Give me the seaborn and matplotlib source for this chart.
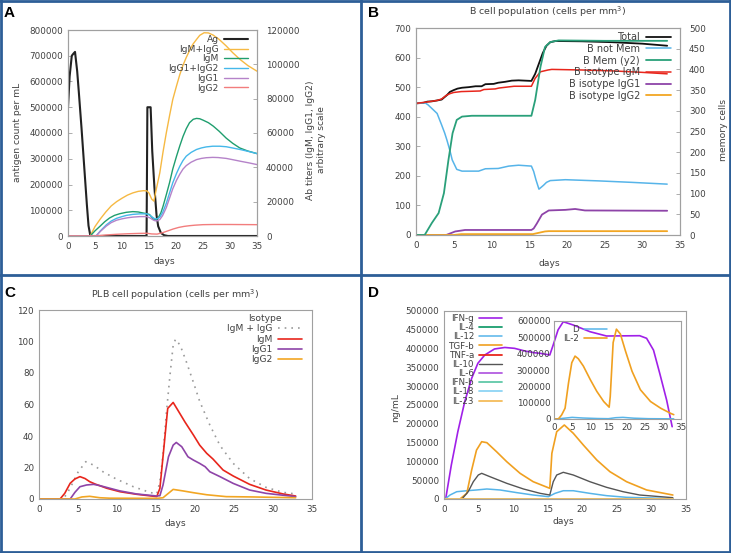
import matplotlib
matplotlib.use("Agg")
import matplotlib.pyplot as plt
import matplotlib.ticker as mticker
from matplotlib.lines import Line2D
import seaborn as sns

sns.set_theme(style="white")
plt.rcParams["font.family"] = ["DejaVu Sans"]

# ---------------- Panel A data ----------------
a_ag_days = [0, 0.3, 0.7, 1.0, 1.3, 1.7, 2.0, 2.5, 3.0, 3.5, 3.8, 4.1, 4.5, 14.55, 14.7, 15.3, 15.6, 16.0, 16.4, 16.7, 17.2, 17.8, 18.5, 35]
a_ag_vals = [500000, 620000, 700000, 708000, 715000, 640000, 560000, 420000, 270000, 120000, 40000, 5000, 0, 0, 500000, 500000, 330000, 190000, 80000, 38000, 12000, 3000, 0, 0]

a_sum_days = [0, 4.1, 5.0, 6.0, 7.0, 8.0, 9.0, 10.0, 11.0, 12.0, 13.0, 14.0, 14.6, 15.0, 15.5, 15.9, 16.4, 17.0, 17.6, 18.2, 18.8, 19.4, 20.1, 20.7, 21.3, 21.9, 22.5, 23.1, 23.8, 24.4, 25.2, 26.0, 26.9, 28.0, 29.3, 30.5, 31.8, 33.3, 35.0]
a_sum_vals = [0, 0, 5500, 10000, 14000, 17500, 20000, 22000, 23800, 25100, 26000, 26400, 26300, 25000, 21500, 20300, 28000, 36800, 49000, 60000, 70000, 79500, 87500, 94000, 99500, 104000, 108000, 111600, 114500, 116900, 118400, 118300, 117000, 114500, 110700, 106800, 103000, 99300, 96000]

a_igm_days = [0, 4.1, 5.0, 5.9, 6.8, 7.7, 8.6, 9.6, 10.8, 12.0, 13.0, 13.9, 14.6, 15.1, 15.5, 15.9, 16.3, 16.7, 17.2, 17.6, 18.2, 18.8, 19.4, 20.1, 20.7, 21.3, 21.9, 22.5, 23.2, 23.8, 24.4, 25.0, 26.0, 26.9, 28.0, 29.3, 30.5, 31.8, 33.3, 35.0]
a_igm_vals = [0, 0, 3000, 5600, 8300, 10500, 12000, 13000, 13800, 14200, 14000, 13400, 13000, 12500, 11000, 9500, 9500, 10500, 13500, 17300, 24000, 31000, 39000, 46500, 52500, 58000, 62500, 66000, 68000, 68500, 68300, 67500, 66000, 64000, 61000, 57000, 54000, 51300, 49500, 48000]

a_igg_days = [0, 5.2, 6.0, 7.1, 8.0, 9.0, 10.0, 10.8, 12.0, 13.3, 14.6, 15.2, 15.7, 16.1, 16.5, 17.0, 17.5, 18.2, 18.8, 19.4, 20.1, 20.7, 21.3, 21.9, 22.8, 23.8, 24.7, 25.6, 26.8, 28.1, 29.3, 30.6, 32.0, 33.5, 35]
a_igg_vals = [0, 0, 3000, 6500, 8700, 10300, 11300, 12000, 12600, 12900, 12900, 12000, 10800, 10000, 10000, 11000, 13500, 19000, 25000, 31000, 36500, 40600, 44000, 46500, 48700, 50400, 51300, 51900, 52300, 52300, 52000, 51200, 50300, 49200, 48000]

a_igg1_days = [0, 5.2, 6.0, 7.1, 8.0, 9.0, 10.0, 11.0, 12.0, 13.3, 14.6, 15.2, 15.7, 16.1, 16.5, 17.0, 17.5, 18.2, 18.8, 19.4, 20.1, 20.7, 21.3, 21.9, 22.8, 23.8, 24.7, 25.6, 26.8, 27.8, 29.3, 30.6, 32.0, 33.5, 35]
a_igg1_vals = [0, 0, 2700, 5800, 7800, 9200, 10000, 10600, 11000, 11300, 11300, 10500, 9500, 8900, 8800, 9600, 11800, 16500, 22000, 27500, 32500, 36000, 39000, 41000, 43000, 44500, 45200, 45600, 45800, 45700, 45200, 44400, 43500, 42600, 41600]

a_igg2_days = [0, 5.0, 6.0, 7.0, 9.0, 11.0, 13.0, 14.6, 15.5, 16.5, 17.5, 18.5, 19.5, 20.5, 21.5, 22.5, 23.5, 25.0, 27.0, 30.0, 35]
a_igg2_vals = [0, 0, 300, 600, 1000, 1300, 1500, 1600, 1200, 1100, 1900, 3000, 4100, 5000, 5600, 6000, 6300, 6600, 6700, 6700, 6600]

# ---------------- Panel B data ----------------
b_total_days = [0, 1.0, 1.5, 2.1, 2.8, 3.4, 4.1, 4.5, 5.0, 5.5, 6.1, 7.0, 7.9, 8.7, 9.2, 10.3, 10.9, 11.8, 12.7, 13.6, 15.3, 15.8, 16.3, 16.8, 17.3, 17.8, 18.5, 22, 26, 30, 33.3]
b_total_vals = [445, 447, 451, 452, 455, 458, 473, 484, 490, 495, 498, 500, 503, 503, 510, 511, 515, 518, 522, 523, 521, 545, 580, 615, 640, 652, 656, 655, 652, 647, 640]

b_notmem_days = [0, 1.2, 1.6, 2.1, 2.8, 3.4, 3.8, 4.1, 4.5, 4.8, 5.4, 6.1, 8.3, 9.2, 10.9, 12.3, 13.6, 15.3, 15.6, 15.9, 16.3, 16.9, 17.3, 17.8, 19.8, 24.2, 28.6, 33.3]
b_notmem_vals = [445, 447, 440, 428, 411, 372, 345, 321, 285, 254, 222, 216, 216, 224, 225, 233, 236, 233, 215, 187, 155, 168, 178, 184, 187, 183, 178, 172]

b_mem_days = [0, 1.15, 2.1, 3.0, 3.7, 4.3, 4.85, 5.4, 6.1, 7.4, 15.3, 15.8, 16.5, 17.1, 17.8, 18.9, 25, 33.3]
b_mem_vals = [0, 0, 29, 53, 101, 181, 246, 278, 286, 288, 288, 326, 406, 454, 466, 470, 469, 469]

b_igm_days = [0, 1.5, 2.8, 3.4, 4.0, 4.5, 5.0, 6.0, 8.5, 9.0, 10.5, 11.0, 12.0, 13.0, 15.3, 15.8, 16.5, 17.5, 18.0, 22, 26, 30, 33.3]
b_igm_vals = [445, 450, 455, 460, 472, 478, 482, 485, 487, 492, 494, 497, 500, 503, 503, 530, 552, 558, 560, 558, 555, 550, 545]

b_igg1_days = [0, 4.0, 4.6, 5.2, 6.0, 6.5, 15.3, 15.6, 16.0, 16.7, 17.6, 19.8, 21.1, 22.4, 33.3]
b_igg1_vals = [0, 0, 6, 12, 15, 17, 17, 22, 38, 69, 83, 85, 88, 83, 82]

b_igg2_days = [0, 5.0, 6.0, 15.5, 16.2, 17.1, 17.6, 33.3]
b_igg2_vals = [0, 0, 3, 3, 7, 12, 13, 13]

# ---------------- Panel C data ----------------
c_sum_days = [0, 2.9, 3.5, 4.2, 5.0, 6.0, 7.0, 8.2, 9.9, 12.1, 14.2, 15.1, 15.5, 15.9, 16.3, 16.8, 17.2, 17.5, 18.1, 18.9, 19.8, 20.6, 21.9, 23.2, 24.9, 27.0, 29.1, 31.3, 32.9]
c_sum_vals = [0, 0, 2.5, 9, 17, 23.7, 21.5, 17.3, 12.7, 7.8, 4.2, 3.2, 11, 28, 53, 79, 97.6, 101.4, 97.6, 87, 74, 62, 47, 34, 22.6, 13, 7.4, 4.2, 3.2]

c_igm_days = [0, 2.7, 3.3, 4.0, 4.6, 5.25, 5.9, 6.5, 7.2, 8.7, 10.4, 12.5, 15.1, 15.5, 16.0, 16.5, 17.2, 17.8, 18.7, 19.8, 20.6, 21.5, 22.3, 23.6, 24.9, 27.0, 29.1, 31.3, 32.9]
c_igm_vals = [0, 0, 3.6, 10, 12.7, 14.2, 13, 11, 9.5, 6.8, 4.6, 3, 1.5, 6.8, 32, 57.5, 61.3, 56.4, 49, 40.6, 34.2, 29, 25.4, 18.4, 14.6, 9.3, 5.7, 3.2, 1.9]

c_igg1_days = [0, 4.0, 4.6, 5.25, 6.1, 7.0, 7.8, 9.1, 10.4, 12.5, 15.1, 15.5, 15.9, 16.6, 17.2, 17.6, 18.3, 19.1, 19.8, 20.6, 21.3, 21.9, 23.2, 24.9, 27.0, 29.1, 32.9]
c_igg1_vals = [0, 0, 4.2, 7.8, 8.9, 9.3, 8.5, 6.8, 5.1, 3.2, 1.9, 2.1, 8.9, 26.8, 34.2, 35.9, 33.2, 26.8, 24.7, 22.6, 20.5, 17.3, 14.2, 9.9, 5.7, 3.6, 1.5]

c_igg2_days = [0, 4.6, 5.5, 6.5, 7.8, 9.1, 15.1, 15.9, 17.2, 18.5, 19.8, 21.5, 24.0, 27.4, 32.9]
c_igg2_vals = [0, 0, 1.3, 1.7, 0.8, 0.5, 0.4, 0.8, 6.1, 5.1, 4.0, 2.7, 1.5, 1.3, 0.8]

# ---------------- Panel D data ----------------
d_ifng_days = [0, 0.24, 1.06, 2.0, 3.0, 4.0, 4.9, 5.9, 7.3, 8.8, 10.2, 11.7, 13.1, 13.9, 15.3, 15.8, 16.5, 17.25, 18.7, 21.1, 23.5, 28.3, 29.3, 30.3, 31.2, 32.2, 33.0]
d_ifng_vals = [0, 0, 90400, 179000, 259000, 321000, 361000, 383000, 399000, 403000, 400700, 393600, 389000, 387500, 383000, 410000, 450000, 471500, 462700, 445000, 433500, 434300, 427400, 396000, 334300, 263000, 192300]

d_tgfb_days = [0, 2.3, 3.3, 4.0, 4.7, 5.45, 6.2, 7.6, 9.07, 11.0, 12.9, 15.3, 15.6, 16.3, 17.4, 18.7, 20.15, 22.1, 24.0, 26.4, 29.3, 33.1]
d_tgfb_vals = [0, 0, 15000, 77000, 130000, 152400, 149800, 125800, 99300, 68300, 46000, 28400, 121500, 179000, 196800, 174700, 143600, 103700, 72600, 46000, 24000, 10600]

d_il10_days = [0, 2.6, 3.5, 4.24, 4.96, 5.45, 6.65, 9.07, 11.5, 13.9, 15.3, 15.8, 16.3, 17.25, 18.7, 21.1, 23.5, 25.9, 28.3, 33.1]
d_il10_vals = [0, 0, 19400, 46000, 63800, 68300, 59300, 41700, 26600, 15100, 10600, 46000, 63800, 71000, 63800, 46000, 31100, 19400, 10600, 3500]

d_il12_days = [0, 0.15, 0.87, 1.84, 3.3, 4.7, 6.2, 8.1, 10.5, 12.9, 15.1, 16.05, 17.25, 18.7, 21.1, 23.5, 26.4, 33.1]
d_il12_vals = [0, 0, 10600, 19400, 22000, 24000, 26600, 24000, 17000, 10600, 6200, 15000, 22000, 22000, 15000, 8900, 4500, 1000]

d_zero_days = [0, 33.1]
d_zero_vals = [0, 0]

d_labels = ["IFN-g", "IL-4", "IL-12", "TGF-b", "TNF-a", "IL-10", "IL-6", "IFN-b", "IL-18", "IL-23"]

# inset (D, IL-2)
e_d_days = [0, 2, 5, 8, 12, 15, 17, 19, 22, 26, 33]
e_d_vals = [0, 3000, 10000, 6000, 3000, 2000, 8000, 10000, 5000, 2000, 1000]
e_il2_days = [0, 1.2, 2.1, 3.05, 4.0, 4.9, 5.8, 6.7, 8.1, 10.0, 11.8, 13.7, 15.2, 15.5, 16.3, 17.2, 18.3, 19.7, 21.5, 23.8, 26.6, 29.4, 32.1, 33.0]
e_il2_vals = [0, 0, 24700, 66000, 221000, 344600, 385000, 369000, 323700, 241000, 169000, 107000, 72400, 138000, 468000, 550000, 520000, 416000, 292600, 179400, 107000, 66000, 35000, 26600]

# ---------------- figure ----------------
W, H = 731, 553
fig = plt.figure(figsize=(W / 100, H / 100), dpi=100)
fig.patch.set_facecolor("white")

TICK = 6.3
TXT = "#404040"
SPINE = "#a0a0a0"


def add_ax(l, t, r, b):
    return fig.add_axes([l / W, 1 - b / H, (r - l) / W, (b - t) / H])


def style(ax, size=TICK, right=False):
    for s in ax.spines.values():
        s.set_color(SPINE)
        s.set_linewidth(0.8)
    ax.tick_params(direction="in", length=3, width=0.6, colors=SPINE,
                   labelcolor=TXT, labelsize=size)
    ax.tick_params(axis="x", pad=4.5)
    ax.tick_params(axis="y", pad=6.5 if right else 3.5)
    ax.yaxis.set_major_formatter(mticker.FuncFormatter(lambda v, p: f"{v:.0f}"))
    ax.xaxis.set_major_formatter(mticker.FuncFormatter(lambda v, p: f"{v:.0f}"))
    ax.set_xlabel("")
    ax.set_ylabel("")


def line(ax, x, y, color, lw=1.0, ls="-"):
    n = len(ax.lines)
    sns.lineplot(x=x, y=y, ax=ax, color=color, lw=lw, legend=False,
                 estimator=None, sort=False)
    ln = ax.lines[n]
    ln.set_linestyle(ls)
    return ln


def legend(ax, handles, labels, x, y, size=6.6, title=None, hl=2.6, ls=0.08):
    leg = ax.legend(handles, labels, loc="upper right", bbox_to_anchor=(x / W, 1 - y / H),
                    bbox_transform=fig.transFigure, frameon=False, markerfirst=False,
                    fontsize=size, handlelength=hl, handletextpad=0.6, labelspacing=ls,
                    borderpad=0, borderaxespad=0, title=title, title_fontsize=size)
    for t in leg.get_texts():
        t.set_color(TXT)
    if title:
        leg.get_title().set_color(TXT)
    return leg


def ftext(x, y, s, size=6.6, rot=0, **kw):
    fig.text(x / W, 1 - y / H, s, fontsize=size, rotation=rot, ha="center",
             va="center", color=TXT, **kw)


# ---- Panel A ----
axA = add_ax(68, 30, 257, 236)
axA2 = axA.twinx()
hA = [line(axA, a_ag_days, a_ag_vals, "#222222", lw=1.5)]
for d, v, c in [(a_sum_days, a_sum_vals, "#f6b943"), (a_igm_days, a_igm_vals, "#1f9e6e"),
                (a_igg_days, a_igg_vals, "#45b8ea"), (a_igg1_days, a_igg1_vals, "#b583c9"),
                (a_igg2_days, a_igg2_vals, "#f27d7d")]:
    hA.append(line(axA2, d, v, c, lw=1.0))
axA.set_xlim(0, 35)
axA.set_ylim(0, 800000)
axA2.set_ylim(0, 120000)
axA.set_xticks(range(0, 36, 5))
axA.set_yticks(range(0, 800001, 100000))
axA2.set_yticks(range(0, 120001, 20000))
style(axA)
style(axA2, right=True)
legend(axA2, hA, ["Ag", "IgM+IgG", "IgM", "IgG1+IgG2", "IgG1", "IgG2"], 248, 35)
ftext(18, 132, "antigen count per mL", rot=90)
ftext(316, 140, "Ab titers (IgM, IgG1, IgG2)\narbitrary scale", rot=90, ma="center")
ftext(164, 262, "days")

# ---- Panel B ----
axB = add_ax(416, 28, 680, 235)
axB2 = axB.twinx()
hB = [line(axB, b_total_days, b_total_vals, "#111111", lw=1.3),
      line(axB, b_notmem_days, b_notmem_vals, "#56b4e9", lw=1.1)]
hmem = line(axB2, b_mem_days, b_mem_vals, "#2aa07a", lw=1.3)
hB.append(hmem)
hB.append(line(axB, b_igm_days, b_igm_vals, "#e8261c", lw=1.1))
hB.append(line(axB, b_igg1_days, b_igg1_vals, "#8e44a8", lw=1.3))
hB.append(line(axB, b_igg2_days, b_igg2_vals, "#f2a623", lw=1.3))
axB.set_xlim(0, 35)
axB.set_ylim(0, 700)
axB2.set_ylim(0, 500)
axB.set_xticks(range(0, 36, 5))
axB.set_yticks(range(0, 701, 100))
axB2.set_yticks(range(0, 501, 50))
style(axB)
style(axB2, right=True)
legend(axB2, hB, ["Total", "B not Mem", "B Mem (y2)", "B isotype IgM", "B isotype IgG1",
                  "B isotype IgG2"], 671, 32, size=7.0, ls=0.18)
ftext(548, 12, "B cell population (cells per mm$^3$)", size=6.8)
ftext(549, 263, "days")
ftext(723, 130, "memory cells", rot=90)

# ---- Panel C ----
axC = add_ax(39, 310, 312, 499)
hC = [line(axC, c_sum_days, c_sum_vals, "#9a9a9a", lw=1.2, ls=(0, (1, 3))),
      line(axC, c_igm_days, c_igm_vals, "#e8261c", lw=1.2),
      line(axC, c_igg1_days, c_igg1_vals, "#8e44a8", lw=1.2),
      line(axC, c_igg2_days, c_igg2_vals, "#f2a623", lw=1.2)]
axC.set_xlim(0, 35)
axC.set_ylim(0, 120)
axC.set_xticks(range(0, 36, 5))
axC.set_yticks(range(0, 121, 20))
style(axC)
legend(axC, hC, ["IgM + IgG", "IgM", "IgG1", "IgG2"], 302, 314, title="Isotype", ls=0.15)
ftext(175, 295, "PLB cell population (cells per mm$^3$)", size=6.8)
ftext(175, 523, "days")

# ---- Panel D ----
axD = add_ax(444, 311, 686, 499)
d_colors = ["#a020e8", "#1a9e6e", "#56b4e9", "#f0a020", "#e8261c", "#555555",
            "#b35de0", "#60c8a8", "#8ed4f4", "#f4bc5a"]
hD = []
for lab, c in zip(d_labels, d_colors):
    if lab == "IFN-g":
        hD.append(line(axD, d_ifng_days, d_ifng_vals, c, lw=1.2))
    elif lab == "TGF-b":
        hD.append(line(axD, d_tgfb_days, d_tgfb_vals, c, lw=1.2))
    elif lab == "IL-10":
        hD.append(line(axD, d_il10_days, d_il10_vals, c, lw=1.0))
    elif lab == "IL-12":
        hD.append(line(axD, d_il12_days, d_il12_vals, c, lw=1.1))
    else:
        hD.append(line(axD, d_zero_days, d_zero_vals, c, lw=1.3))
axD.set_xlim(0, 35)
axD.set_ylim(0, 500000)
axD.set_xticks(range(0, 36, 5))
axD.set_yticks(range(0, 500001, 50000))
style(axD)
legend(axD, hD, d_labels, 502, 314, size=6.3, ls=0.02)
ftext(396, 408, "ng/mL", rot=90)
ftext(563, 522, "days")

axE = add_ax(554, 321, 681, 419)
axE.set_facecolor("none")
hE = [line(axE, e_d_days, e_d_vals, "#56b4e9", lw=1.1),
      line(axE, e_il2_days, e_il2_vals, "#f0a020", lw=1.2)]
axE.set_xlim(0, 35)
axE.set_ylim(0, 600000)
axE.set_xticks(range(0, 36, 5))
axE.set_yticks(range(0, 600001, 100000))
style(axE)
axE.tick_params(axis="x", pad=3)
axE.tick_params(axis="y", pad=2.5)
legend(axE, hE, ["D", "IL-2"], 607, 325, size=6.3, ls=0.05)

# ---- panel letters and frames ----
for s, x, y in [("A", 4, 6), ("B", 368, 6), ("C", 4, 286), ("D", 368, 286)]:
    fig.text(x / W, 1 - y / H, s, fontsize=11, fontweight="bold", ha="left", va="top",
             color="black", family=["Liberation Sans", "DejaVu Sans"])

FR = "#2d5e97"
for xs, ys in [([1, 1], [0, H]), ([W - 1, W - 1], [0, H]), ([0, W], [1, 1]),
               ([0, W], [H - 1, H - 1]), ([361, 361], [0, H]), ([0, W], [275, 275])]:
    fig.add_artist(Line2D([x / W for x in xs], [1 - y / H for y in ys], color=FR, lw=2.0,
                          transform=fig.transFigure))

fig.savefig("out.png", dpi=100, facecolor="white")
